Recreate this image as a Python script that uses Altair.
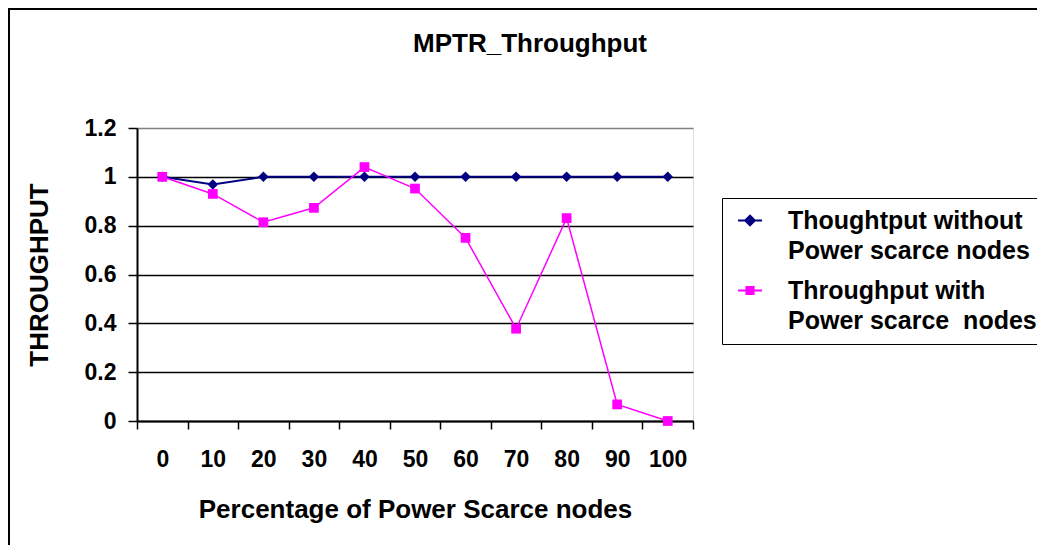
import altair as alt
import pandas as pd

categories = ["0", "10", "20", "30", "40", "50", "60", "70", "80", "90", "100"]
without_psn = [1.0, 0.969, 1.0, 1.0, 1.0, 1.0, 1.0, 1.0, 1.0, 1.0, 1.0]
with_psn = [1.0, 0.930, 0.814, 0.873, 1.040, 0.952, 0.750, 0.378, 0.831, 0.068, 0.0]
series_names = ["Thoughtput without|Power scarce nodes", "Throughput with|Power scarce\u00a0 nodes"]
series_colors = ["#000080", "#FF00FF"]
y_ticks = [0, 0.2, 0.4, 0.6, 0.8, 1.0, 1.2]

rows = []
for s, vals in zip(series_names, [without_psn, with_psn]):
    for c, v in zip(categories, vals):
        rows.append({"pct": c, "thr": v, "series": s})
df = pd.DataFrame(rows)

FONT = "Liberation Sans"

x_enc = alt.X(
    "pct:N", sort=categories,
    scale=alt.Scale(type="band", paddingInner=0, paddingOuter=0),
    axis=alt.Axis(
        title="Percentage of Power Scarce nodes", labelAngle=0, tickBand="extent",
        grid=False, domainColor="black", domainWidth=2, tickColor="black", tickWidth=1.5,
        tickSize=8, labelPadding=19, labelFont=FONT, labelFontSize=23, labelFontWeight="bold",
        labelColor="black", titleFont=FONT, titleFontSize=26, titleFontWeight="bold",
        titleColor="black", titlePadding=25,
    ),
)
y_enc = alt.Y(
    "thr:Q",
    scale=alt.Scale(domain=[0, 1.2], nice=False, zero=True),
    axis=alt.Axis(
        title="THROUGHPUT", values=y_ticks, format="~g", grid=True,
        gridColor={"condition": {"test": "datum.value >= 1.19", "value": "#808080"}, "value": "black"},
        gridWidth=1.5, domainColor="black", domainWidth=2, tickColor="black", tickWidth=1.5,
        tickSize=9, labelPadding=12, labelFont=FONT, labelFontSize=23, labelFontWeight="bold",
        labelColor="black", titleFont=FONT, titleFontSize=26, titleFontWeight="bold",
        titleColor="black", titlePadding=32,
    ),
)

base = alt.Chart(df)

border = alt.Chart(pd.DataFrame({"d": [0]})).mark_rect(
    fill="transparent", stroke="black", strokeWidth=2
).encode(x=alt.value(-128), x2=alt.value(1000), y=alt.value(-119), y2=alt.value(600))

blue = base.transform_filter(alt.datum.series == series_names[0])
pink = base.transform_filter(alt.datum.series == series_names[1])

blue_line = blue.mark_line(color=series_colors[0], strokeWidth=2).encode(x=x_enc, y=y_enc)
blue_pts = blue.mark_point(shape="diamond", filled=True, opacity=1, size=110,
                           color=series_colors[0]).encode(x=x_enc, y=y_enc)
pink_line = pink.mark_line(color=series_colors[1], strokeWidth=1.5).encode(x=x_enc, y=y_enc)
pink_pts = pink.mark_point(shape="square", filled=True, opacity=1, size=95,
                           color=series_colors[1]).encode(x=x_enc, y=y_enc)

# legend symbols: a line segment with the series marker, drawn in units of 12px
sym_paths = [
    "M-0.54,-0.08H1.46V0.08H-0.54Z M0.46,-0.52L0.98,0L0.46,0.52L-0.06,0Z",
    "M-0.54,-0.08H1.46V0.08H-0.54Z M0.08,-0.38H0.84V0.38H0.08Z",
]

def make_legend():
    return alt.Legend(
        title=None, orient="none", legendX=585, legendY=70,
        labelExpr="split(datum.label, '|')",
        labelFont=FONT, labelFontSize=25, labelFontWeight="bold",
        labelColor="black", labelLimit=600, labelOffset=31,
        labelBaseline="middle",
        symbolSize=576, symbolOpacity=1, symbolStrokeWidth=0,
        padding=10, rowPadding=14,
        strokeColor="black", fillColor="white",
    )

ghost = base.transform_filter("false").mark_point(filled=True, size=576).encode(
    color=alt.Color("series:N", scale=alt.Scale(domain=series_names, range=series_colors),
                    legend=make_legend()),
    shape=alt.Shape("series:N", scale=alt.Scale(domain=series_names, range=sym_paths),
                    legend=make_legend()),
)

chart = alt.layer(border, blue_line, blue_pts, pink_line, pink_pts, ghost).properties(
    width=556, height=293,
    title=alt.TitleParams("MPTR_Throughput", font=FONT, fontSize=26, fontWeight="bold",
                          color="black", anchor="middle", dx=115, offset=-70,
                          baseline="alphabetic"),
    autosize="none",
    padding={"left": 129, "top": 120, "right": 344, "bottom": 124},
).configure_view(
    fill="#C0C0C0", stroke="#808080", strokeWidth=1.5
).configure_legend(
    strokeWidth=1.5
).configure(background="white", style={"guide-label": {"lineHeight": 30}})

chart.save("out.html", embed_options={"renderer": "svg", "actions": False})
